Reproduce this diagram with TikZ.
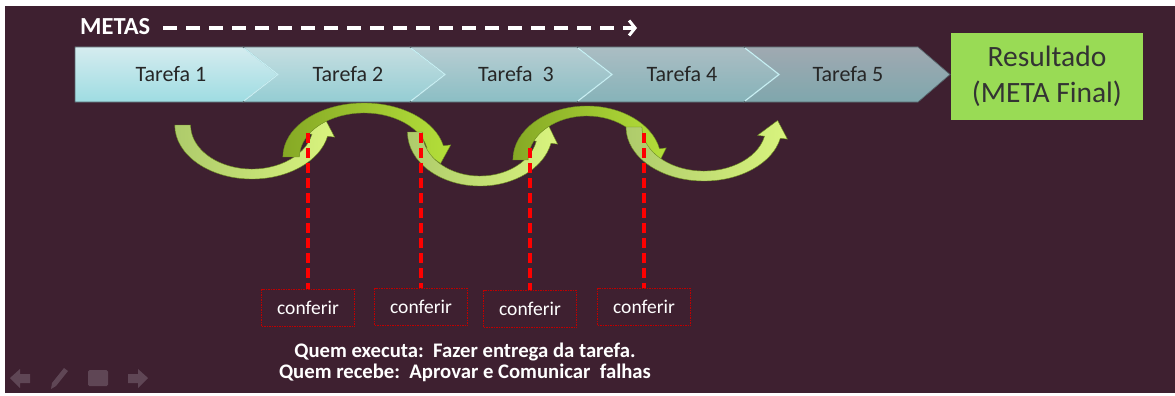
\documentclass[tikz,border=0pt]{standalone}
\usepackage{fontspec}
\setmainfont{Carlito}
\usetikzlibrary{arrows.meta}
\definecolor{bg}{RGB}{62,32,48}
\definecolor{c1t}{HTML}{D5ECEF}\definecolor{c1b}{HTML}{9EDCE2}
\definecolor{c2t}{HTML}{C6DEE1}\definecolor{c2b}{HTML}{94CDD3}
\definecolor{c3t}{HTML}{B7CDD2}\definecolor{c3b}{HTML}{8BBEC4}
\definecolor{c4t}{HTML}{ABBDC3}\definecolor{c4b}{HTML}{86B3B9}
\definecolor{c5t}{HTML}{A0A9B1}\definecolor{c5b}{HTML}{7FA7AD}
\definecolor{chevline}{HTML}{56666C}
\definecolor{hilite}{HTML}{C6EEF2}
\definecolor{tdark}{HTML}{262626}
\definecolor{resgreen}{HTML}{99DB55}
\definecolor{restext}{HTML}{333333}
\definecolor{boxred}{HTML}{C00000}
\definecolor{gu1}{HTML}{AECB6B}\definecolor{gu2}{HTML}{93B733}\definecolor{gu3}{HTML}{D9F47E}
\definecolor{gn1}{HTML}{86A925}\definecolor{gn2}{HTML}{C2E070}\definecolor{gn3}{HTML}{B4DF3A}
\definecolor{gedge}{HTML}{6B8A20}
\definecolor{icon}{HTML}{5F4655}
\newcommand\garrow[5]{% cx, cy, s (1 = U, -1 = cap), k (x scale), style
  \shade[#5] ({#1-78*#4},#2) arc[start angle=180, end angle={180-(#3)*168}, x radius={78*#4}, y radius=54]
    -- ({#1+83.4*#4},{#2+(#3)*12.1}) -- ({#1+73.6*#4},{#2-(#3)*6.5})
    -- ({#1+53.6*#4},{#2+(#3)*8.3}) -- ({#1+60.6*#4},{#2+(#3)*9.2})
    arc[start angle={180-(#3)*168}, end angle=180, x radius={62*#4}, y radius=44] -- cycle;}
\begin{document}
\begin{tikzpicture}[x=1pt,y=-1pt,
  chev/.style={draw=chevline, line width=0.7pt},
  hl/.style={draw=hilite, line width=1.3pt},
  tlabel/.style={text=tdark, font=\fontsize{22}{24}\selectfont, inner sep=0pt},
  reddash/.style={draw=red, line width=4.2pt, dash pattern=on 10pt off 5pt},
  checkbox/.style={draw=boxred, line width=0.9pt, dash pattern=on 1.5pt off 1pt,
    minimum width=93pt, minimum height=37pt, text=white,
    font=\fontsize{19.5}{20}\selectfont, inner sep=0pt},
  garrowU/.style={left color=gu1, middle color=gu2, right color=gu3, draw=gedge, line width=0.4pt},
  garrowN/.style={left color=gn1, middle color=gn2, right color=gn3, draw=gedge, line width=0.4pt},
  iconfill/.style={fill=icon, draw=none},
]
\useasboundingbox (0,0) rectangle (1175,396);
\fill[white] (0,0) rectangle (1175,396);
\fill[bg] (5,6) rectangle (1175,393);

% METAS
\node[font=\bfseries\fontsize{24.5}{26}\selectfont, text=white, anchor=west, inner sep=0pt] (metas) at (80,27) {METAS};
\coordinate (m0) at (163,28);
\coordinate (m1) at (637,28);
\draw[white, line width=3.4pt, dash pattern=on 14pt off 9pt,
  -{Straight Barb[length=6pt,width=15pt,line width=3pt]}] (m0) -- (m1);

% chevron bar
\shade[chev, top color=c1t, bottom color=c1b] (75,47) -- (243,47) -- (278,74.5) -- (243,102) -- (75,102) -- cycle;
\shade[chev, top color=c2t, bottom color=c2b] (243,47) -- (410,47) -- (445,74.5) -- (410,102) -- (243,102) -- (278,74.5) -- cycle;
\shade[chev, top color=c3t, bottom color=c3b] (410,47) -- (577,47) -- (612,74.5) -- (577,102) -- (410,102) -- (445,74.5) -- cycle;
\shade[chev, top color=c4t, bottom color=c4b] (577,47) -- (744,47) -- (779,74.5) -- (744,102) -- (577,102) -- (612,74.5) -- cycle;
\shade[chev, top color=c5t, bottom color=c5b] (744,47) -- (918,47) -- (950,74.5) -- (918,102) -- (744,102) -- (779,74.5) -- cycle;
\draw[hl] (244,48) -- (278,74.5) -- (244,101);
\draw[hl] (411,48) -- (445,74.5) -- (411,101);
\draw[hl] (578,48) -- (612,74.5) -- (578,101);
\draw[hl] (745,48) -- (779,74.5) -- (745,101);

\node[tlabel] (t1) at (171,74) {Tarefa 1};
\node[tlabel] (t2) at (348,74) {Tarefa 2};
\node[tlabel] (t3) at (516,74) {Tarefa\ \ 3};
\node[tlabel] (t4) at (682,74) {Tarefa 4};
\node[tlabel] (t5) at (848,74) {Tarefa 5};

% result
\node[fill=resgreen, minimum width=192pt, minimum height=87pt, inner sep=0pt,
  text=restext, align=center, font=\fontsize{29.5}{36}\selectfont] (res) at (1047,76.5)
  {Resultado\\(META Final)};

% green curved arrows
\garrow{252}{125}{1}{0.99}{garrowU}
\garrow{364}{157}{-1}{1.04}{garrowN}
\garrow{480}{132}{1}{0.93}{garrowU}
\garrow{587}{160}{-1}{0.95}{garrowN}
\garrow{704}{127}{1}{1.0}{garrowU}

% check boxes and red dashed lines
\node[checkbox] (c1) at (308,308) {conferir};
\node[checkbox] (c2) at (421,307) {conferir};
\node[checkbox] (c3) at (530,309) {conferir};
\node[checkbox] (c4) at (644,307) {conferir};
\coordinate (r1) at (308,133);
\coordinate (r2) at (421,133);
\coordinate (r3) at (530,148);
\coordinate (r4) at (644,133);
\draw[reddash] (r1) -- (c1.north);
\draw[reddash] (r2) -- (c2.north);
\draw[reddash] (r3) -- (c3.north);
\draw[reddash] (r4) -- (c4.north);

% bottom text
\node[text=white, align=center, font=\bfseries\fontsize{20.7}{21}\selectfont, inner sep=0pt] (q) at (465,362)
  {Quem executa:\ \ Fazer entrega da tarefa.\\Quem recebe:\ \ Aprovar e Comunicar\ \ falhas};

% slide show icons
\fill[iconfill] (10,378) -- (20,369) -- (20,374) -- (30,374) -- (30,383) -- (20,383) -- (20,388) -- cycle;
\fill[iconfill] (51,389) -- (52,383) -- (64,368) -- (68,371) -- (56,386) -- cycle;
\fill[iconfill, rounded corners=1.5pt] (88,370) rectangle (108,386);
\fill[iconfill] (148,378) -- (138,369) -- (138,374) -- (128,374) -- (128,383) -- (138,383) -- (138,388) -- cycle;
\end{tikzpicture}
\end{document}
